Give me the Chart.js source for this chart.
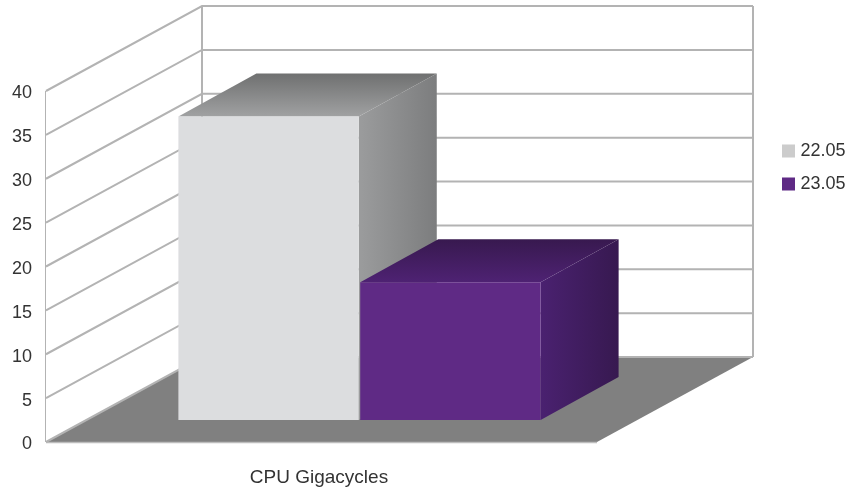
<!DOCTYPE html>
<html><head><meta charset="utf-8">
<style>html,body{margin:0;padding:0;background:#fff}#w{width:847px;height:488px}</style>
<script src="https://cdn.jsdelivr.net/npm/chart.js@4"></script></head>
<body><div id="w"><canvas id="c" width="847" height="488"></canvas></div>
<script>
const categories = ["CPU Gigacycles"];
const seriesNames = ["22.05", "23.05"];
const series2205 = [34.6];
const series2305 = [15.7];
const yMin = 0, yMax = 40, yStep = 5;
const legendColors = ["#CCCCCC", "#5F2A85"];
const faceColors = ["#DCDDDF", "#5F2A85"];
const topColors = [["#6F7070", "#A0A1A2"], ["#38194F", "#4E2273"]];
const sideColors = [["#9B9C9D", "#7C7D7E"], ["#4A2170", "#371950"]];

const FAMILY = "'Liberation Sans', Arial, sans-serif";
const FONT = {family: FAMILY, size: 18};
const XFONT = {family: FAMILY, size: 19};
const wall = {dx: 156, dy: -85};      // depth of the 3D box
const barDepth = {dx: 78, dy: -43};   // depth of a 3D bar
const barShiftX = 38;                 // bars stand mid-way in the depth
const barLiftVal = 2.507;             // same, expressed in axis units

const scene = {
  id: "scene",
  afterLayout(chart) {
    const l = chart.legend, w = l.width, h = l.height;
    l.left = 770.5; l.top = 127; l.right = l.left + w; l.bottom = l.top + h;
  },
  beforeDatasetsDraw(chart) {
    const {ctx, chartArea: a, scales} = chart, y = scales.y;
    const x0 = a.left, x1 = a.right, y0 = y.getPixelForValue(0), yT = y.getPixelForValue(yMax);
    const bx0 = x0 + wall.dx, bx1 = x1 + wall.dx, by0 = y0 + wall.dy, byT = yT + wall.dy;
    ctx.save();
    // floor
    ctx.fillStyle = "#808080";
    ctx.beginPath(); ctx.moveTo(x0, y0); ctx.lineTo(x1, y0); ctx.lineTo(bx1, by0); ctx.lineTo(bx0, by0); ctx.closePath(); ctx.fill();
    ctx.strokeStyle = "#BDBDBD"; ctx.lineWidth = 1.5;
    ctx.beginPath(); ctx.moveTo(x0, y0 + .5); ctx.lineTo(x1, y0 + .5); ctx.stroke();
    // grid
    ctx.strokeStyle = "#B3B3B3"; ctx.lineWidth = 2;
    y.ticks.forEach(t => {
      const p = y.getPixelForValue(t.value);
      ctx.beginPath(); ctx.moveTo(x0, p); ctx.lineTo(bx0, p + wall.dy); ctx.lineTo(bx1, p + wall.dy); ctx.stroke();
    });
    ctx.beginPath(); ctx.moveTo(bx0, byT); ctx.lineTo(bx0, by0); ctx.stroke();
    ctx.beginPath(); ctx.moveTo(bx1, byT); ctx.lineTo(bx1, by0); ctx.stroke();
    ctx.lineWidth = 1;
    ctx.beginPath(); ctx.moveTo(x0 - .5, yT); ctx.lineTo(x0 - .5, y0); ctx.stroke();
    // depth of the bars, back to front; the front faces are drawn by the bars themselves
    ctx.translate(barShiftX, 0);
    chart.data.datasets.forEach((ds, i) => {
      chart.getDatasetMeta(i).data.forEach(b => {
        const xa = b.x - b.width / 2, xb = b.x + b.width / 2, yt = b.y, yb = b.base;
        const {dx, dy} = barDepth;
        let g = ctx.createLinearGradient(xb, 0, xb + dx, 0);
        g.addColorStop(0, sideColors[i][0]); g.addColorStop(1, sideColors[i][1]);
        ctx.fillStyle = g;
        ctx.beginPath(); ctx.moveTo(xb, yt); ctx.lineTo(xb + dx, yt + dy); ctx.lineTo(xb + dx, yb + dy); ctx.lineTo(xb, yb); ctx.closePath(); ctx.fill();
        g = ctx.createLinearGradient(0, yt + dy, 0, yt);
        g.addColorStop(0, topColors[i][0]); g.addColorStop(1, topColors[i][1]);
        ctx.fillStyle = g;
        ctx.beginPath(); ctx.moveTo(xa, yt); ctx.lineTo(xa + dx, yt + dy); ctx.lineTo(xb + dx, yt + dy); ctx.lineTo(xb, yt); ctx.closePath(); ctx.fill();
      });
    });
    ctx.restore();
  },
  beforeDatasetDraw(chart) { chart.ctx.save(); chart.ctx.translate(barShiftX, 0); },
  afterDatasetDraw(chart) { chart.ctx.restore(); }
};

new Chart(document.getElementById("c"), {
  type: "bar",
  data: {
    labels: categories,
    datasets: [
      {label: seriesNames[0], data: series2205, backgroundColor: faceColors[0], yAxisID: "yBars", barPercentage: 0.992, categoryPercentage: 0.66},
      {label: seriesNames[1], data: series2305, backgroundColor: faceColors[1], yAxisID: "yBars", barPercentage: 0.992, categoryPercentage: 0.66}
    ]
  },
  plugins: [scene],
  options: {
    responsive: false,
    animation: false,
    layout: {padding: {top: 91, right: 250, left: 0, bottom: 0}},
    plugins: {
      title: {display: false},
      tooltip: {enabled: false},
      legend: {
        position: "chartArea",
        align: "start",
        labels: {
          boxWidth: 6, boxHeight: 6, padding: 15, color: "#333333", font: FONT,
          generateLabels: () => seriesNames.map((n, i) => ({
            text: n, fillStyle: legendColors[i], strokeStyle: legendColors[i], lineWidth: 7,
            fontColor: "#333333", hidden: false, datasetIndex: i
          }))
        }
      }
    },
    scales: {
      x: {
        grid: {display: false, drawTicks: false}, border: {display: false},
        afterFit(s) { s.height = 46; },
        ticks: {color: "#333333", font: XFONT, padding: 24, labelOffset: -2.5, maxRotation: 0}
      },
      y: {
        min: yMin, max: yMax, grid: {display: false, drawTicks: false}, border: {display: false},
        afterFit(s) { s.width = 46; },
        ticks: {stepSize: yStep, color: "#333333", font: FONT, padding: 14, labelOffset: 2.5}
      },
      yBars: {display: false, min: yMin - barLiftVal, max: yMax - barLiftVal}
    }
  }
});
</script></body></html>
